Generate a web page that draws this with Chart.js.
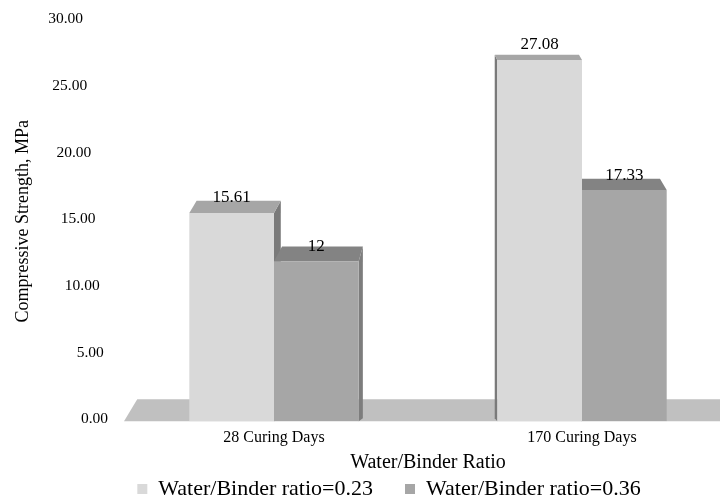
<!DOCTYPE html>
<html>
<head>
<meta charset="utf-8">
<script src="https://cdn.jsdelivr.net/npm/chart.js@4.4.1/dist/chart.umd.min.js"></script>
<style>
  html, body { margin: 0; padding: 0; background: #fff; }
  #wrap { width: 720px; height: 499px; overflow: hidden; }
  #chart { display: block; }
</style>
</head>
<body>
<div id="wrap"><canvas id="chart" width="743" height="510"></canvas></div>
<script>
// --- data ---
const categories = ["28 Curing Days", "170 Curing Days"];
const seriesNames = ["Water/Binder ratio=0.23", "Water/Binder ratio=0.36"];
const ratio023 = [15.61, 27.08];
const ratio036 = [12, 17.33];
const yRange = [0, 30];
const yStep = 5;

// --- look ---
const FONT = "'Liberation Serif', 'Times New Roman', serif";
const frontColors = ["#d9d9d9", "#a6a6a6"];
const topColors = ["#a6a6a6", "#838383"];
const sideColors = ["#7a7a7a", "#7d7d7d"];
const floorColor = "#c0c0c0";

// fake 3D: offset of the back edge for a point on the front plane
function depth(x, y) {
  const dy = -0.047 * (y + 49);
  const r = 0.6 * Math.tanh((400 - x) / 80);
  return [-dy * r, dy];
}

function poly(ctx, pts, color) {
  ctx.beginPath();
  ctx.moveTo(pts[0][0], pts[0][1]);
  for (let i = 1; i < pts.length; i++) ctx.lineTo(pts[i][0], pts[i][1]);
  ctx.closePath();
  ctx.fillStyle = color;
  ctx.fill();
}

const box3d = {
  id: "box3d",
  beforeDatasetsDraw(chart) {
    const ctx = chart.ctx;
    const ys = chart.scales.y;
    const area = chart.chartArea;
    const base = ys.getPixelForValue(0);
    ctx.save();

    // floor
    const fl = area.left + 4, fr = area.right;
    const [dl, dyl] = depth(fl, base);
    const [dr, dyr] = depth(fr, base);
    poly(ctx, [[fl, base], [fr, base], [fr + dr, base + dyr], [fl + dl, base + dyl]], floorColor);

    // side faces (thin strips on the side facing the middle)
    chart.data.datasets.forEach((ds, i) => {
      chart.getDatasetMeta(i).data.forEach((bar) => {
        const { x, y, width } = bar.getProps(["x", "y", "width"], true);
        const xl = x - width / 2, xr = x + width / 2;
        const xs = depth(xr, y)[0] > 0 ? xr : xl;
        const [dxT, dyT] = depth(xs, y);
        poly(ctx, [[xs, y], [xs + dxT, y + dyT], [xs + dxT, base - 3], [xs, base]], sideColors[i]);
      });
    });

    // top faces
    chart.data.datasets.forEach((ds, i) => {
      chart.getDatasetMeta(i).data.forEach((bar) => {
        const { x, y, width } = bar.getProps(["x", "y", "width"], true);
        const xl = x - width / 2, xr = x + width / 2;
        const [a, ay] = depth(xl, y);
        const [b, by] = depth(xr, y);
        poly(ctx, [[xl, y], [xr, y], [xr + b, y + by], [xl + a, y + ay]], topColors[i]);
      });
    });
    ctx.restore();
  },
  afterDatasetsDraw(chart) {
    // value labels
    const ctx = chart.ctx;
    ctx.save();
    ctx.font = "17px " + FONT;
    ctx.fillStyle = "#000";
    ctx.textAlign = "center";
    ctx.textBaseline = "middle";
    chart.data.datasets.forEach((ds, i) => {
      chart.getDatasetMeta(i).data.forEach((bar, j) => {
        const { x, y } = bar.getProps(["x", "y"], true);
        ctx.fillText(String(ds.data[j]), x, y - 15);
      });
    });
    ctx.restore();
  },
  afterDraw(chart) {
    // y tick labels, slanted with the perspective
    const ctx = chart.ctx;
    const ys = chart.scales.y;
    ctx.save();
    ctx.font = "15.5px " + FONT;
    ctx.fillStyle = "#000";
    ctx.textAlign = "right";
    ctx.textBaseline = "middle";
    ys.ticks.forEach((t) => {
      const yy = ys.getPixelForValue(t.value);
      const xx = 83 + ((ys.max - t.value) / (ys.max - ys.min)) * 25;
      ctx.fillText(t.value.toFixed(2), xx, yy - 2);
    });
    ctx.restore();
  },
};

new Chart(document.getElementById("chart"), {
  type: "bar",
  data: {
    labels: categories,
    datasets: [
      { label: seriesNames[0], data: ratio023, backgroundColor: frontColors[0], borderWidth: 0 },
      { label: seriesNames[1], data: ratio036, backgroundColor: frontColors[1], borderWidth: 0 },
    ],
  },
  options: {
    responsive: false,
    animation: false,
    devicePixelRatio: 1,
    layout: { padding: { top: 21, right: 7, left: 42, bottom: 0 } },
    datasets: { bar: { categoryPercentage: 0.55, barPercentage: 1.0 } },
    plugins: {
      legend: {
        position: "bottom",
        labels: {
          boxWidth: 10,
          boxHeight: 10,
          padding: 32,
          color: "#000",
          font: { family: FONT, size: 22 },
        },
      },
      tooltip: { enabled: false },
    },
    scales: {
      x: {
        grid: { display: false, drawTicks: false },
        border: { display: false },
        ticks: { color: "#000", padding: 7, font: { family: FONT, size: 16 } },
        title: {
          display: true,
          text: "Water/Binder Ratio",
          color: "#000",
          font: { family: FONT, size: 20 },
          padding: { top: -3.5, bottom: -29 },
        },
      },
      y: {
        min: yRange[0],
        max: yRange[1],
        grid: { display: false, drawTicks: false },
        border: { display: false },
        ticks: { display: false, stepSize: yStep },
        title: {
          display: true,
          text: "Compressive Strength, MPa",
          color: "#000",
          font: { family: FONT, size: 18 },
          padding: { top: -30, bottom: 0 },
        },
        afterFit(scale) {
          scale.width = 78;
        },
      },
    },
  },
  plugins: [box3d],
});
</script>
</body>
</html>
